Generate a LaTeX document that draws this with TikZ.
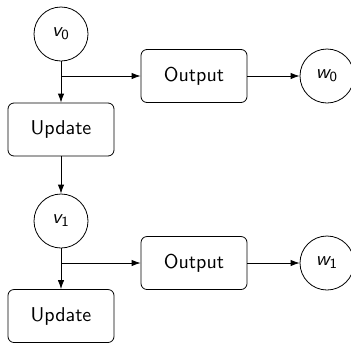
\documentclass[tikz,border=0pt]{standalone}
\usepackage{amsmath}
\renewcommand{\familydefault}{\sfdefault}
\usepackage{tikz}
\usetikzlibrary{positioning, arrows.meta}
\tikzset{S/.style={draw, circle, inner sep=0pt, minimum size=27pt}}
\tikzset{P/.style={draw, rounded corners=3pt, minimum width=53pt, minimum height=26.5pt}}
\tikzset{E/.style={draw,-{Latex[length=4.5pt,width=3.2pt]}}}
\newcommand{\sv}[2]{$\text{\itshape #1}_{\text{#2}}$}

\begin{document}
\begin{tikzpicture}[node distance=66.5pt and 66.5pt, on grid]
        \useasboundingbox (0,0) rectangle (175.5pt,-171.5pt);
        %% Step 0
        \node[S] (v0) at (30.5pt,-17pt) {\sv{v}{0}};
        \coordinate[below=21pt of v0] (br0);
        \node[P,below=47.75pt of v0] (up0) {Update};
        \node[P] (out0) at ([xshift=66.5pt]br0) {Output};
        \node[S,right= of out0] (w0) {\sv{w}{0}};
        %% Step 1
        \node[S,below=45.75pt of up0] (v1) {\sv{v}{1}};
        \coordinate[below=21pt of v1] (br1);
        \node[P,below=47.5pt of v1] (up1) {Update};
        \node[P] (out1) at ([xshift=66.5pt]br1) {Output};
        \node[S,right= of out1] (w1) {\sv{w}{1}};
        %% Edges
        \draw[E] (v0) -- (up0);
        \draw[E] (br0) -- (out0);
        \draw[E] (out0) -- (w0);
        \draw[E] (up0) -- (v1);
        \draw[E] (v1) -- (up1);
        \draw[E] (br1) -- (out1);
        \draw[E] (out1) -- (w1);
\end{tikzpicture}
\end{document}
